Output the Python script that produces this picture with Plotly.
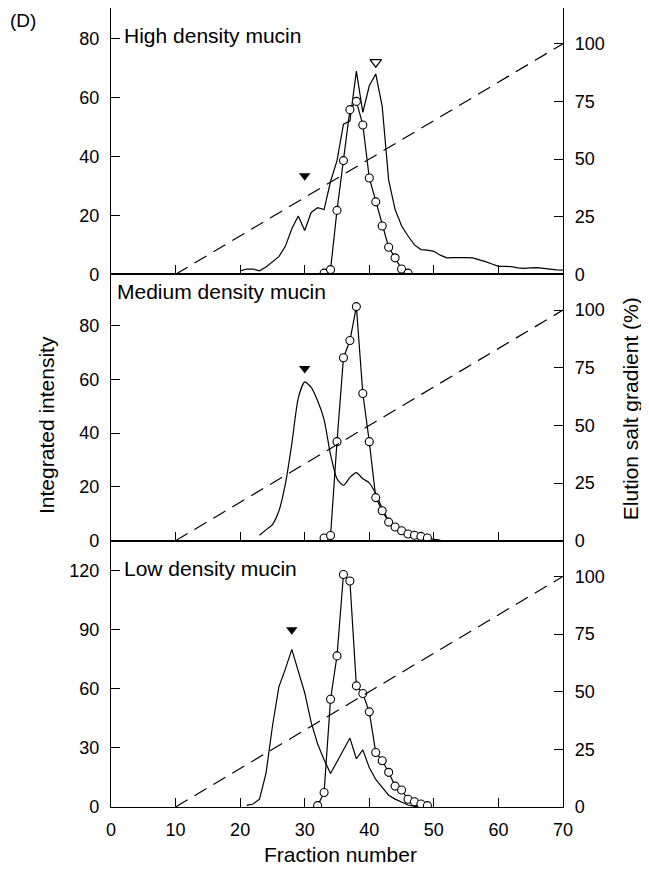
import plotly.graph_objects as go
from plotly.subplots import make_subplots

# ---------------- data ----------------
x_ticks = [0, 10, 20, 30, 40, 50, 60, 70]
x_tick_labels = ["0", "10", "20", "30", "40", "50", "60", "70"]

gradient_x = [10, 70]
gradient_y = [0, 100]

# High density mucin
high_line_x = list(range(20, 71))
high_line_y = [1.2, 1.8, 1.8, 1.2, 2.5, 4.4, 6.0, 9.5, 15.5, 19.8, 14.9, 21.0, 22.6, 22.0,
               31.5, 38.6, 51.0, 52.0, 69.0, 55.0, 64.0, 68.0, 57.0, 32.0, 22.0, 16.5,
               13.0, 10.0, 8.4, 8.2, 7.8, 6.5, 5.6, 5.7, 5.8, 5.7, 5.6, 5.0, 4.3, 3.5,
               2.7, 2.7, 2.6, 2.2, 2.0, 2.2, 2.3, 2.0, 1.7, 1.5, 1.4]
high_circ_x = list(range(33, 47))
high_circ_y = [0.4, 1.6, 21.7, 38.6, 55.9, 58.7, 50.7, 32.7, 24.6, 16.4, 9.2, 5.6, 1.8, 0.4]
high_tri_filled = (30, 33.5)
high_tri_open = (41, 72)

# Medium density mucin
med_line_x = list(range(23, 52))
med_line_y = [2, 4, 6, 11, 21, 36, 53, 59, 57, 52, 45, 32, 23, 20.5, 23.5, 25.3, 23,
              21.5, 17.5, 12, 7.5, 5.2, 3.8, 2.7, 2.0, 1.4, 0.9, 0.5, 0.2]
med_circ_x = list(range(33, 50))
med_circ_y = [1.0, 1.9, 36.8, 68, 74.4, 87, 54.7, 36.8, 16, 11.1, 6.9, 5.1, 3.7, 2.5,
              2.0, 1.6, 1.0]
med_tri_filled = (30, 64)

# Low density mucin
low_line_x = list(range(21, 49))
low_line_y = [0.8, 1.5, 4, 17, 41, 61, 70, 80, 69, 58, 43, 32, 24, 17, 23, 29, 35,
              24.5, 29, 20, 14, 10, 6, 4, 2.5, 1, 0.3, 0]
low_circ_x = list(range(32, 50))
low_circ_y = [0.7, 7.4, 54.7, 76.7, 118, 114.7, 61.5, 57.6, 48.3, 27.7, 23.5, 17.6,
              10.6, 8.6, 3.9, 2.7, 1.5, 0.7]
low_tri_filled = (28, 90)

left_ticks = [[0, 20, 40, 60, 80], [0, 20, 40, 60, 80], [0, 30, 60, 90, 120]]
left_ranges = [[0, 90.4], [0, 99], [0, 135.2]]
right_ticks = [0, 25, 50, 75, 100]
right_range = [0, 115.5]

panel_titles = ["High density mucin", "Medium density mucin", "Low density mucin"]

# ---------------- figure ----------------
FONT = "Liberation Sans, Arial, Helvetica, sans-serif"
fig = make_subplots(rows=3, cols=1, shared_xaxes=True, vertical_spacing=0,
                    specs=[[{"secondary_y": True}], [{"secondary_y": True}], [{"secondary_y": True}]])

panels = [
    (high_line_x, high_line_y, high_circ_x, high_circ_y, [high_tri_filled], [high_tri_open]),
    (med_line_x, med_line_y, med_circ_x, med_circ_y, [med_tri_filled], []),
    (low_line_x, low_line_y, low_circ_x, low_circ_y, [low_tri_filled], []),
]

for i, (lx, ly, cx, cy, tf, to) in enumerate(panels):
    row = i + 1
    fig.add_trace(go.Scatter(x=gradient_x, y=gradient_y, mode="lines",
                             line=dict(color="black", width=1.2, dash="14px,8px"),
                             showlegend=False), row=row, col=1, secondary_y=True)
    fig.add_trace(go.Scatter(x=lx, y=ly, mode="lines",
                             line=dict(color="black", width=1.2,
                                       shape="spline" if i == 1 else "linear", smoothing=0.6),
                             showlegend=False), row=row, col=1, secondary_y=False)
    fig.add_trace(go.Scatter(x=cx, y=cy, mode="lines+markers",
                             line=dict(color="black", width=1.2),
                             marker=dict(symbol="circle", size=8, color="white",
                                         line=dict(color="black", width=1.1)),
                             showlegend=False), row=row, col=1, secondary_y=False)
    if tf:
        fig.add_trace(go.Scatter(x=[p[0] for p in tf], y=[p[1] for p in tf], mode="markers",
                                 marker=dict(symbol="triangle-down", size=10, color="black"),
                                 showlegend=False), row=row, col=1, secondary_y=False)
    if to:
        fig.add_trace(go.Scatter(x=[p[0] for p in to], y=[p[1] for p in to], mode="markers",
                                 marker=dict(symbol="triangle-down-open", size=10, color="black",
                                             line=dict(width=1.2)),
                                 showlegend=False), row=row, col=1, secondary_y=False)

    fig.update_yaxes(range=left_ranges[i], tickvals=left_ticks[i], ticks="inside", ticklen=9,
                     showline=True, linecolor="black", linewidth=1.3, showgrid=False,
                     zeroline=False, tickcolor="black", ticklabelstandoff=7, automargin=False,
                     tickfont=dict(family=FONT, size=18, color="black"),
                     row=row, col=1, secondary_y=False)
    fig.update_yaxes(range=right_range, tickvals=right_ticks, ticks="inside", ticklen=9,
                     showline=True, linecolor="black", linewidth=1.3, showgrid=False,
                     zeroline=False, tickcolor="black", ticklabelstandoff=7, automargin=False,
                     tickfont=dict(family=FONT, size=18, color="black"),
                     row=row, col=1, secondary_y=True)
    fig.update_xaxes(range=[0, 70], tickvals=x_ticks, ticktext=x_tick_labels,
                     domain=[0, 1],
                     ticks="inside", ticklen=9, showline=True, mirror=True,
                     linecolor="black", linewidth=1.3, showgrid=False, zeroline=False,
                     tickcolor="black", showticklabels=(row == 3), ticklabelstandoff=6,
                     automargin=False,
                     tickfont=dict(family=FONT, size=18, color="black"),
                     row=row, col=1)

# ---------------- text ----------------
ann = []
title_pos = [(0.024, 0.966), (0.009, 0.645), (0.024, 0.299)]
for t, (ax, ay) in zip(panel_titles, title_pos):
    ann.append(dict(text=t, x=ax, y=ay, xref="paper", yref="paper", xanchor="left",
                    yanchor="middle", showarrow=False,
                    font=dict(family=FONT, size=21, color="black")))
ann.append(dict(text="Integrated intensity", x=-0.144, y=0.478, xref="paper", yref="paper",
                textangle=-90, showarrow=False, xanchor="center", yanchor="middle",
                font=dict(family=FONT, size=21, color="black")))
ann.append(dict(text="Elution salt gradient (%)", x=1.148, y=0.499, xref="paper", yref="paper",
                textangle=-90, showarrow=False, xanchor="center", yanchor="middle",
                font=dict(family=FONT, size=21, color="black")))
ann.append(dict(text="Fraction number", x=0.507, y=-0.060, xref="paper", yref="paper",
                showarrow=False, xanchor="center", yanchor="middle",
                font=dict(family=FONT, size=21, color="black")))
ann.append(dict(text="(D)", x=-0.195, y=0.984, xref="paper", yref="paper",
                showarrow=False, xanchor="center", yanchor="middle",
                font=dict(family=FONT, size=19, color="black")))

# page body has an 8px margin, so the figure is 8px smaller and offsets are compensated
fig.update_layout(width=641, height=873, margin=dict(l=103, r=86, t=0, b=74),
                  paper_bgcolor="white", plot_bgcolor="white", annotations=ann,
                  showlegend=False)

fig.write_html("out.html")
